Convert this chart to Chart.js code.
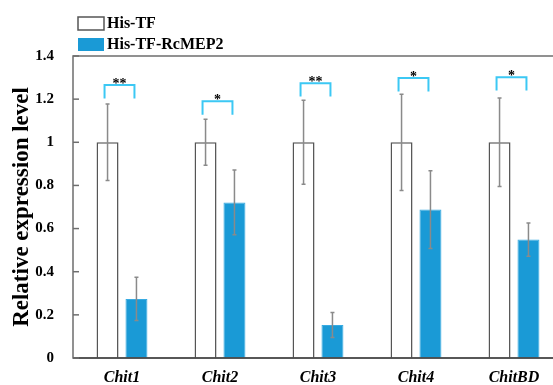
<!DOCTYPE html>
<html>
<head>
<meta charset="utf-8">
<script src="https://cdn.jsdelivr.net/npm/chart.js@4/dist/chart.umd.min.js"></script>
<style>
  body { margin: 0; overflow: hidden; background: #fff; }
  #wrap { position: relative; width: 580px; height: 385px; }
</style>
</head>
<body>
<div id="wrap"><canvas id="expr-chart"></canvas></div>
<script>
// data
const genes = ["Chit1", "Chit2", "Chit3", "Chit4", "ChitBD"];
const seriesNames = ["His-TF", "His-TF-RcMEP2"];
const hisTF = [1, 1, 1, 1, 1];
const hisTFErr = [0.177, 0.107, 0.195, 0.223, 0.205];
const hisTFRc = [0.274, 0.721, 0.153, 0.688, 0.549];
const hisTFRcErr = [0.10, 0.15, 0.058, 0.18, 0.077];
const bracketTop = [1.265, 1.19, 1.274, 1.298, 1.302];
const stars = ["**", "*", "**", "*", "*"];
const yTicks = [0, 0.2, 0.4, 0.6, 0.8, 1, 1.2, 1.4];

const BLUE = "#1a9ad6";
const BRACKET = "#3cc8f4";

// error bars, significance brackets, frame and legend
const extrasPlugin = {
  id: "extras",
  afterDatasetsDraw(chart) {
    const ctx = chart.ctx;
    const y = chart.scales.y;
    const area = chart.chartArea;
    const errs = [hisTFErr, hisTFRcErr];

    ctx.save();
    // error bars
    ctx.strokeStyle = "#8a8a8a";
    ctx.lineWidth = 1.5;
    chart.data.datasets.forEach((ds, di) => {
      chart.getDatasetMeta(di).data.forEach((bar, i) => {
        const v = ds.data[i];
        const top = y.getPixelForValue(v + errs[di][i]);
        const bot = y.getPixelForValue(v - errs[di][i]);
        ctx.beginPath();
        ctx.moveTo(bar.x, top);
        ctx.lineTo(bar.x, bot);
        ctx.moveTo(bar.x - 2, top);
        ctx.lineTo(bar.x + 2, top);
        ctx.moveTo(bar.x - 2, bot);
        ctx.lineTo(bar.x + 2, bot);
        ctx.stroke();
      });
    });

    // significance brackets
    const m0 = chart.getDatasetMeta(0).data;
    const m1 = chart.getDatasetMeta(1).data;
    ctx.strokeStyle = BRACKET;
    ctx.lineWidth = 2;
    ctx.fillStyle = "#000";
    ctx.font = "bold 14px 'Liberation Serif'";
    ctx.textAlign = "center";
    ctx.textBaseline = "alphabetic";
    genes.forEach((g, i) => {
      const x1 = m0[i].x - 3;
      const x2 = m1[i].x - 2;
      const t = y.getPixelForValue(bracketTop[i]);
      const b = y.getPixelForValue(bracketTop[i] - 0.062);
      ctx.beginPath();
      ctx.moveTo(x1, b);
      ctx.lineTo(x1, t);
      ctx.lineTo(x2, t);
      ctx.lineTo(x2, b);
      ctx.stroke();
      ctx.fillText(stars[i], (x1 + x2) / 2, t + 3);
    });

    // frame + inner ticks
    ctx.strokeStyle = "#6e6e6e";
    ctx.lineWidth = 1.5;
    ctx.strokeRect(area.left, area.top, area.right - area.left, area.bottom - area.top);
    ctx.strokeStyle = "#444";
    ctx.beginPath();
    ctx.moveTo(area.left, area.bottom);
    ctx.lineTo(area.right, area.bottom);
    ctx.stroke();
    ctx.strokeStyle = "#6e6e6e";
    yTicks.forEach((v) => {
      const py = y.getPixelForValue(v);
      ctx.beginPath();
      ctx.moveTo(area.left, py);
      ctx.lineTo(area.left + 6, py);
      ctx.stroke();
    });

    // legend
    const fills = ["#ffffff", BLUE];
    const rows = [17, 38];
    ctx.font = "bold 16px 'Liberation Serif'";
    ctx.textAlign = "left";
    ctx.textBaseline = "middle";
    seriesNames.forEach((name, i) => {
      ctx.fillStyle = fills[i];
      ctx.fillRect(78, rows[i], 26, 13);
      if (i === 0) {
        ctx.strokeStyle = "#555";
        ctx.lineWidth = 1.5;
        ctx.strokeRect(78, rows[i], 26, 13);
      }
      ctx.fillStyle = "#000";
      ctx.fillText(name, 107, rows[i] + 7);
    });
    ctx.restore();
  },
};

const ctx = document.getElementById("expr-chart").getContext("2d");
new Chart(ctx, {
  type: "bar",
  data: {
    labels: genes,
    datasets: [
      {
        label: seriesNames[0],
        data: hisTF,
        backgroundColor: "#ffffff",
        borderColor: "#555555",
        borderWidth: 1.5,
        barPercentage: 0.76,
        categoryPercentage: 0.59,
      },
      {
        label: seriesNames[1],
        data: hisTFRc,
        backgroundColor: BLUE,
        borderColor: "#38abe2",
        borderWidth: 1,
        barPercentage: 0.76,
        categoryPercentage: 0.59,
      },
    ],
  },
  options: {
    responsive: true,
    maintainAspectRatio: false,
    animation: false,
    layout: { padding: { top: 56, right: 17, left: 0, bottom: 0 } },
    plugins: { legend: { display: false }, tooltip: { enabled: false } },
    scales: {
      x: {
        grid: { display: false },
        border: { display: false },
        ticks: {
          color: "#000",
          padding: 2,
          font: { family: "Liberation Serif", size: 16, weight: "bold", style: "italic" },
        },
        afterFit: function (scale) {
          scale.height = 27;
        },
      },
      y: {
        min: 0,
        max: 1.4,
        grid: { display: false },
        border: { display: false },
        ticks: {
          stepSize: 0.2,
          padding: 11,
          color: "#000",
          font: { family: "Liberation Serif", size: 15, weight: "bold" },
          callback: function (value) {
            return String(+Number(value).toFixed(1));
          },
        },
        title: {
          display: true,
          text: "Relative expression level",
          color: "#000",
          font: { family: "Liberation Serif", size: 23, weight: "bold" },
          padding: { top: 8, bottom: 0 },
        },
        afterFit: function (scale) {
          scale.width = 73;
        },
      },
    },
  },
  plugins: [extrasPlugin],
});
</script>
</body>
</html>
